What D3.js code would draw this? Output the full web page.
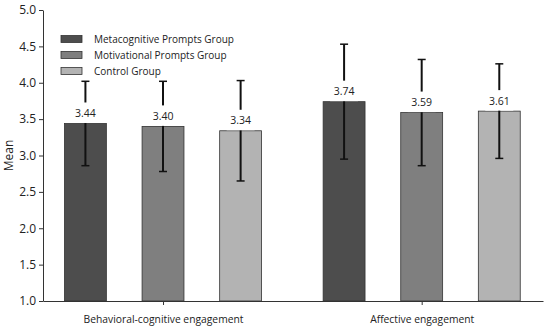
<!DOCTYPE html>
<html><head><meta charset="utf-8">
<script src="https://cdn.jsdelivr.net/npm/d3@7"></script>
<style>body{margin:0;background:#fff}svg{display:block}text{font-family:"Open Sans",sans-serif}</style>
</head><body><svg id="c" width="550" height="332"></svg>
<script>
const categories = ["Behavioral-cognitive engagement", "Affective engagement"];
const groups = ["Metacognitive Prompts Group", "Motivational Prompts Group", "Control Group"];
const means = [[3.44, 3.40, 3.34], [3.74, 3.59, 3.61]];
const sds = [[0.58, 0.62, 0.69], [0.79, 0.73, 0.65]];
const yTicks = [1.0, 1.5, 2.0, 2.5, 3.0, 3.5, 4.0, 4.5, 5.0];
const colors = ["#4d4d4d", "#7f7f7f", "#b3b3b3"];

(function () {
const svg = d3.select("#c");
const pL = 43, pR = 543, pT = 10, pB = 301;
const x = d3.scaleLinear().domain([-0.464, 1.469]).range([pL, pR]);
const y = d3.scaleLinear().domain([1, 5]).range([pB, pT]);
const offsets = [-0.3, 0, 0.3];
const bw = 0.162;

// axes
const ya = svg.append("g").attr("transform", `translate(${pL},0)`)
  .call(d3.axisLeft(y).tickValues(yTicks).tickFormat(d3.format(".1f")).tickSize(4).tickSizeOuter(0));
ya.select(".domain").attr("stroke", "#333");
ya.selectAll(".tick line").attr("stroke", "#333");
ya.selectAll("text").attr("font-size", 12).attr("fill", "#222").attr("x", -7);

const xa = svg.append("g").attr("transform", `translate(0,${pB})`)
  .call(d3.axisBottom(x).tickValues([0, 1]).tickFormat(i => categories[i]).tickSize(4).tickSizeOuter(0));
xa.select(".domain").attr("stroke", "#333");
xa.selectAll(".tick line").attr("stroke", "#333");
xa.selectAll("text").attr("font-size", 10.3).attr("fill", "#222").attr("dy", "1.45em");

svg.append("text").attr("transform", `translate(13,${(pT+pB)/2}) rotate(-90)`)
  .attr("text-anchor", "middle").attr("font-size", 12).attr("fill", "#222").text("Mean");

const data = [];
categories.forEach((c, i) => groups.forEach((g, j) => data.push({i, j, m: means[i][j], s: sds[i][j]})));

// bars
svg.selectAll("rect.bar").data(data).enter().append("rect")
  .attr("x", d => x(d.i + offsets[d.j] - bw / 2))
  .attr("width", d => x(d.i + offsets[d.j] + bw / 2) - x(d.i + offsets[d.j] - bw / 2))
  .attr("y", d => y(d.m)).attr("height", d => y(1) - y(d.m))
  .attr("fill", d => colors[d.j]).attr("stroke", "#333").attr("stroke-width", 0.8);

// error bars
const eb = svg.selectAll("g.eb").data(data).enter().append("g");
eb.append("line").attr("x1", d => x(d.i + offsets[d.j])).attr("x2", d => x(d.i + offsets[d.j]))
  .attr("y1", d => y(d.m - d.s)).attr("y2", d => y(d.m + d.s)).attr("stroke", "#111").attr("stroke-width", 2);
[-1, 1].forEach(k => eb.append("line")
  .attr("x1", d => x(d.i + offsets[d.j]) - 4).attr("x2", d => x(d.i + offsets[d.j]) + 4)
  .attr("y1", d => y(d.m + k * d.s)).attr("y2", d => y(d.m + k * d.s))
  .attr("stroke", "#111").attr("stroke-width", 1.5));

// labels with white background
eb.append("rect").attr("x", d => x(d.i + offsets[d.j]) - 14).attr("width", 28)
  .attr("y", d => y(d.m) - 21).attr("height", 20.5).attr("fill", "#fff");
eb.append("text").attr("x", d => x(d.i + offsets[d.j])).attr("y", d => y(d.m) - 6.5)
  .attr("text-anchor", "middle").attr("font-size", 10.5).attr("fill", "#222").text(d => d.m.toFixed(2));

// legend
const lg = svg.append("g");
groups.forEach((g, j) => {
  const yy = 39 + j * 16;
  lg.append("rect").attr("x", 61).attr("y", yy - 3.5).attr("width", 21).attr("height", 7)
    .attr("fill", colors[j]).attr("stroke", "#333").attr("stroke-width", 0.8);
  lg.append("text").attr("x", 94).attr("y", yy + 3.8).attr("font-size", 10).attr("fill", "#222").text(g);
});
})();
</script></body></html>
